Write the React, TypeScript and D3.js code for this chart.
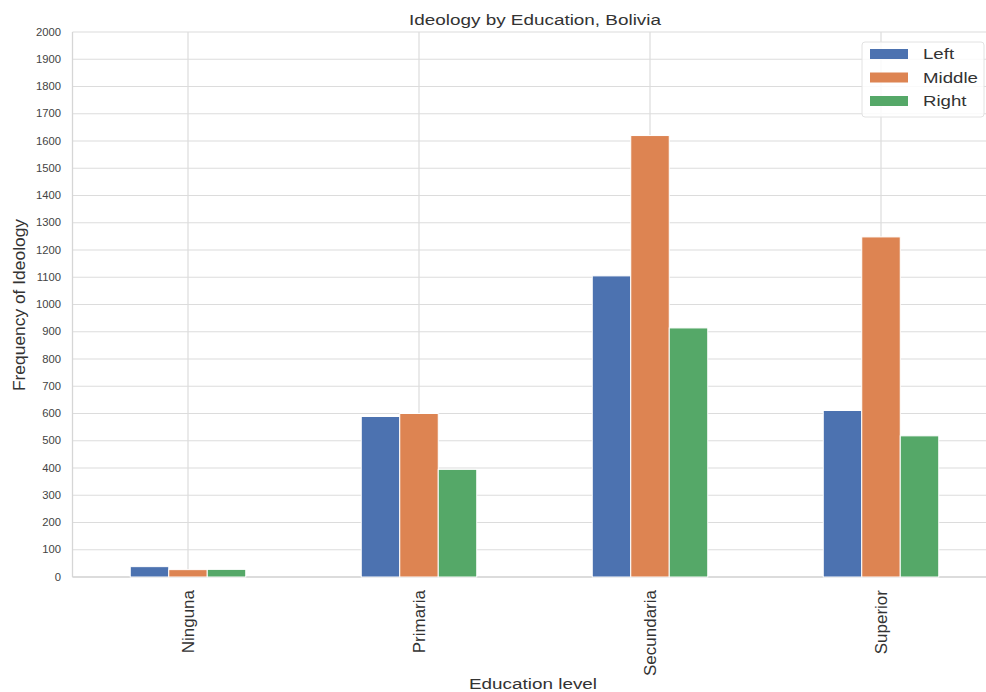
import React from "react";
import * as d3 from "d3";

const categories = ["Ninguna", "Primaria", "Secundaria", "Superior"];
const seriesNames = ["Left", "Middle", "Right"];
const leftValues = [38, 589, 1105, 611];
const middleValues = [27, 600, 1620, 1248];
const rightValues = [28, 395, 914, 518];
const yTicks = d3.range(0, 2001, 100);
const colors = ["#4c72b0", "#dd8452", "#55a868"];

const W = 986;
const H = 692;
const plotLeft = 72.5;
const plotRight = 996.5;
const plotTop = 32;
const plotBottom = 577;
const font = "'Liberation Sans', Arial, sans-serif";
const SX = 1.22;

export default function App() {
  const x = d3.scaleBand<string>().domain(categories).range([plotLeft, plotRight]).padding(0);
  const inner = d3
    .scaleBand<string>()
    .domain(seriesNames)
    .range([-x.bandwidth() * 0.25, x.bandwidth() * 0.25])
    .padding(0);
  const y = d3.scaleLinear().domain([0, 2000]).range([plotBottom, plotTop]);
  const series = [leftValues, middleValues, rightValues];
  const cx = (c: string) => (x(c) as number) + x.bandwidth() / 2;

  return (
    <svg
      width={W}
      height={H}
      style={{ position: "absolute", left: 0, top: 0, background: "#fff" }}
      fontFamily={font}
    >
      <rect x={0} y={0} width={W} height={H} fill="#fff" />
      {/* grid */}
      {yTicks.map((t) => (
        <line key={"h" + t} x1={plotLeft} x2={plotRight} y1={y(t)} y2={y(t)} stroke="#dcdcdc" strokeWidth={1.2} />
      ))}
      {categories.map((c) => (
        <line key={"v" + c} x1={cx(c)} x2={cx(c)} y1={plotTop} y2={plotBottom} stroke="#dcdcdc" strokeWidth={1.2} />
      ))}
      {/* spines */}
      <line x1={plotLeft} x2={plotLeft} y1={plotTop} y2={plotBottom} stroke="#d6d6d6" strokeWidth={1.3} />
      <line x1={plotLeft} x2={plotRight} y1={plotBottom} y2={plotBottom} stroke="#d6d6d6" strokeWidth={1.3} />
      {/* bars */}
      {series.map((vals, si) =>
        categories.map((c, ci) => {
          const bx = cx(c) + (inner(seriesNames[si]) as number);
          return (
            <rect
              key={si + "-" + ci}
              x={bx}
              y={y(vals[ci])}
              width={inner.bandwidth()}
              height={plotBottom - y(vals[ci])}
              fill={colors[si]}
              stroke="#fff"
              strokeWidth={1}
            />
          );
        })
      )}
      {/* y tick labels */}
      {yTicks.map((t) => (
        <text
          key={"yt" + t}
          transform={`translate(61,${y(t)}) scale(1.13,1)`}
          dy="0.35em"
          textAnchor="end"
          fontSize={10}
          fill="#444"
        >
          {t}
        </text>
      ))}
      {/* x tick labels */}
      {categories.map((c) => (
        <text
          key={"xt" + c}
          transform={`translate(${cx(c) + 6},${plotBottom + 13}) rotate(-90)`}
          textAnchor="end"
          fontSize={17}
          fill="#333"
        >
          {c}
        </text>
      ))}
      {/* titles */}
      <text transform={`translate(535,25) scale(${SX},1)`} textAnchor="middle" fontSize={15.5} fill="#333">
        Ideology by Education, Bolivia
      </text>
      <text transform={`translate(533,689) scale(${SX},1)`} textAnchor="middle" fontSize={15.5} fill="#333">
        Education level
      </text>
      <text transform={`translate(24.5,305) rotate(-90)`} textAnchor="middle" fontSize={17.4} fill="#333">
        Frequency of Ideology
      </text>
      {/* legend */}
      <rect x={862} y={42} width={122} height={75} rx={3} fill="#fff" fillOpacity={0.85} stroke="#e2e2e2" />
      {seriesNames.map((s, i) => (
        <g key={"lg" + s} transform={`translate(870,${54 + i * 23.5})`}>
          <rect x={0} y={-5} width={38} height={10} fill={colors[i]} />
          <text transform={`translate(53,0) scale(${SX},1)`} dy="0.35em" fontSize={15.3} fill="#333">
            {s}
          </text>
        </g>
      ))}
    </svg>
  );
}
